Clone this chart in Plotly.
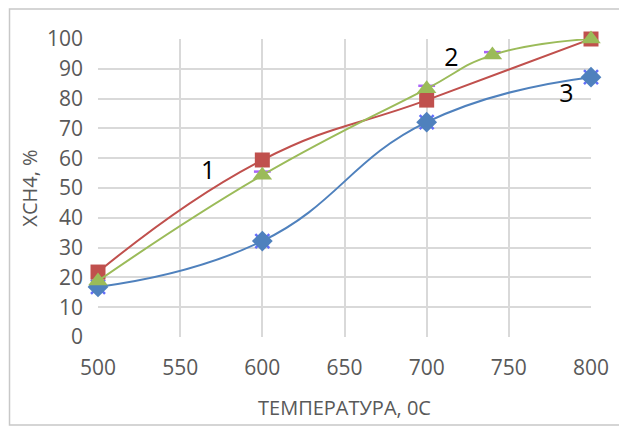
import plotly.graph_objects as go

# data
x1 = [500, 600, 700, 800]
y1 = [21.8, 59.4, 79.5, 100]        # curve 1 (red squares)
x2 = [500, 600, 700, 740, 800]
y2 = [18.8, 54.3, 83.3, 94.6, 100]  # curve 2 (green triangles)
x3 = [500, 600, 700, 800]
y3 = [16.8, 32.2, 72.1, 87.2]       # curve 3 (blue diamonds)
xd = [600, 700, 740]
yd = [55.5, 84.3, 95.6]             # hidden dash markers
lab_x = [567, 715, 785]
lab_y = [55, 93, 81]
lab_t = ["1", "2", "3"]

font = "Open Sans, Liberation Sans, sans-serif"
fig = go.Figure()

fig.add_trace(go.Scatter(x=x3, y=y3, mode="markers", cliponaxis=False,
                         marker=dict(symbol="x-thin-open", size=14, line=dict(color="#4BACC6", width=2.5)),
                         showlegend=False))
fig.add_trace(go.Scatter(x=x3, y=y3, mode="lines+markers", cliponaxis=False,
                         line=dict(color="#4F81BD", width=2, shape="spline", smoothing=1.3),
                         marker=dict(symbol="diamond", size=16, color="#4F81BD"),
                         showlegend=False))
fig.add_trace(go.Scatter(x=x1, y=y1, mode="lines+markers", cliponaxis=False,
                         line=dict(color="#C0504D", width=2, shape="spline", smoothing=1.3),
                         marker=dict(symbol="square", size=15, color="#C0504D"),
                         showlegend=False))
fig.add_trace(go.Scatter(x=xd, y=yd, mode="markers", cliponaxis=False,
                         marker=dict(symbol="line-ew-open", size=12, line=dict(color="#1F497D", width=2.5)),
                         showlegend=False))
fig.add_trace(go.Scatter(x=x2, y=y2, mode="lines+markers", cliponaxis=False,
                         line=dict(color="#9BBB59", width=2, shape="spline", smoothing=1.3),
                         marker=dict(symbol="triangle-up", size=17, color="#9BBB59"),
                         showlegend=False))
fig.add_trace(go.Scatter(x=lab_x, y=lab_y, mode="text", text=lab_t, cliponaxis=False,
                         textfont=dict(family=font, size=25, color="#000000"),
                         showlegend=False))

fig.add_shape(type="rect", xref="paper", yref="paper",
              x0=-0.1795, x1=1.0588, y0=-0.2953, y1=1.1006,
              line=dict(color="#C8C8C8", width=1.5), fillcolor="rgba(0,0,0,0)")

fig.update_layout(
    width=619, height=424,
    margin=dict(l=90, r=36, t=31, b=95),
    paper_bgcolor="white", plot_bgcolor="white",
    font=dict(family=font, size=21, color="#595959"),
)
fig.update_xaxes(range=[500, 800], tickvals=[500, 550, 600, 650, 700, 750, 800],
                 showgrid=True, gridcolor="#D9D9D9", gridwidth=1.5, zeroline=False,
                 showline=False, ticks="", ticklabelstandoff=16, automargin=False,
                 tickfont=dict(size=21),
                 title=dict(text="ТЕМПЕРАТУРА, 0С", font=dict(size=20, color="#595959"), standoff=20))
fig.update_yaxes(range=[0, 100], dtick=10,
                 showgrid=True, gridcolor="#D9D9D9", gridwidth=1.5, zeroline=False,
                 showline=False, ticks="", ticklabelstandoff=14, automargin=False,
                 tickfont=dict(size=21),
                 title=dict(text="XCH4, %", font=dict(size=20, color="#595959"), standoff=3))

fig.write_html("out.html")
